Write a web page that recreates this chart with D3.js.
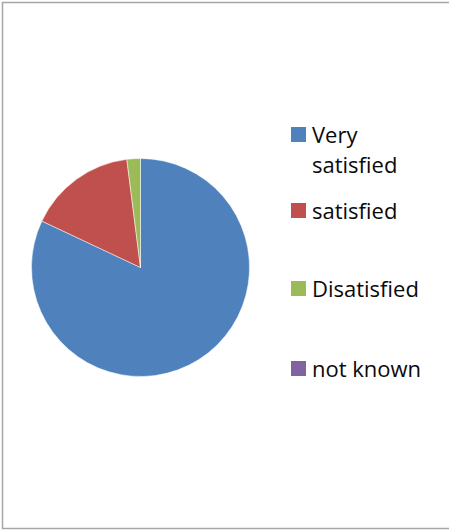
<!DOCTYPE html>
<html>
<head>
<meta charset="utf-8">
<script src="https://cdnjs.cloudflare.com/ajax/libs/d3/7.8.5/d3.min.js"></script>
<style>
  body { margin: 0; background: #fff; }
  svg { display: block; }
</style>
</head>
<body>
<script>
// chart data
var categories = ["Very satisfied", "satisfied", "Disatisfied", "not known"];
var values = [82, 16, 2, 0];
var colors = ["#4f81bd", "#c0504d", "#9bbb59", "#8064a2"];

var width = 449, height = 531;
var svg = d3.select("body").append("svg")
    .attr("width", width)
    .attr("height", height);

// chart area frame (right edge is cut off)
svg.append("rect")
    .attr("x", 2.5)
    .attr("y", 2.5)
    .attr("width", width + 10)
    .attr("height", 526)
    .attr("fill", "none")
    .attr("stroke", "#a6a6a6")
    .attr("stroke-width", 1.5);

var cx = 140.5, cy = 267.5, radius = 109;

var pie = d3.pie()
    .sort(null)
    .value(function (d) { return d.value; });

var arc = d3.arc()
    .innerRadius(0)
    .outerRadius(radius);

var data = categories.map(function (c, i) {
    return { name: c, value: values[i], color: colors[i] };
});

var pieGroup = svg.append("g")
    .attr("transform", "translate(" + cx + "," + cy + ")");

pieGroup.selectAll("path")
    .data(pie(data).filter(function (d) { return d.data.value > 0; }))
    .enter().append("path")
    .attr("d", arc)
    .attr("fill", function (d) { return d.data.color; })
    .attr("stroke", "#ffffff")
    .attr("stroke-width", 0.5);

// legend (Excel spreads the entries over the height)
var legendX = 291, textX = 312;
var legendBaselines = [143, 219, 297, 377];
var lineHeight = 30;
var legendLines = [["Very", "satisfied"], ["satisfied"], ["Disatisfied"], ["not known"]];

var legend = svg.append("g")
    .attr("font-family", "'Open Sans', Carlito, Calibri, sans-serif")
    .attr("font-size", 22)
    .attr("fill", "#0a0a0a");

legend.selectAll("g")
    .data(data)
    .enter().append("g")
    .each(function (d, i) {
        var g = d3.select(this);
        g.append("rect")
            .attr("x", legendX)
            .attr("y", legendBaselines[i] - 16)
            .attr("width", 15)
            .attr("height", 15)
            .attr("fill", d.color);
        var t = g.append("text")
            .attr("x", textX)
            .attr("y", legendBaselines[i]);
        legendLines[i].forEach(function (line, j) {
            t.append("tspan")
                .attr("x", textX)
                .attr("dy", j === 0 ? 0 : lineHeight)
                .text(line);
        });
    });
</script>
</body>
</html>
